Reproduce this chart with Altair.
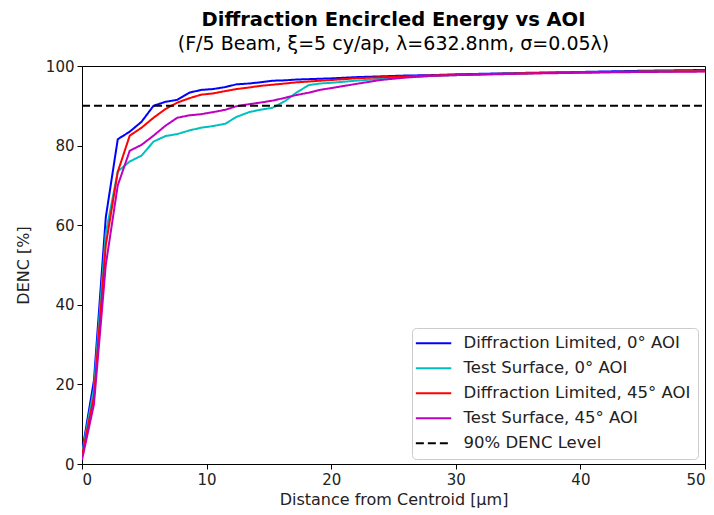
import altair as alt
import pandas as pd

x_um = [0, 0.96, 1.91, 2.87, 3.83, 4.78, 5.74, 6.7, 7.65, 8.61, 9.57, 10.5, 11.5,
        12.4, 13.4, 14.3, 15.3, 16.3, 17.2, 18.2, 19.1, 20.1, 22, 24, 26, 28, 30,
        33, 36, 40, 45, 50]

dl_0 = [3, 21, 62, 81.6, 83.5, 86, 90, 91, 91.5, 93.3, 94, 94.2, 94.7, 95.4, 95.6,
        95.9, 96.3, 96.4, 96.6, 96.7, 96.8, 96.9, 97.2, 97.4, 97.6, 97.7, 97.9,
        98.1, 98.3, 98.5, 98.8, 99.0]
ts_0 = [2.5, 19, 58, 73.5, 76, 77.5, 81, 82.4, 82.9, 83.8, 84.5, 84.9, 85.5, 87.2,
        88.4, 89, 89.5, 91.2, 93.3, 95.2, 95.6, 95.8, 96.3, 96.8, 97.2, 97.5, 97.7,
        98, 98.2, 98.4, 98.6, 98.8]
dl_45 = [2, 17, 55, 73.4, 82.5, 84.5, 87, 89.2, 90.8, 91.9, 92.8, 93.1, 93.7, 94.2,
         94.6, 95, 95.3, 95.6, 95.9, 96.1, 96.3, 96.5, 96.9, 97.2, 97.4, 97.6, 97.8,
         98, 98.2, 98.4, 98.6, 98.7]
ts_45 = [1, 15, 50, 70, 78.7, 80.2, 82.5, 85, 87, 87.6, 87.9, 88.4, 89, 89.9, 90.4,
         90.8, 91.3, 92, 92.7, 93.3, 94, 94.5, 95.5, 96.5, 97.1, 97.5, 97.7, 97.9,
         98.1, 98.3, 98.5, 98.6]
level_x = [0, 50]
level_y = [90, 90]

names = ["Diffraction Limited, 0° AOI", "Test Surface, 0° AOI",
         "Diffraction Limited, 45° AOI", "Test Surface, 45° AOI", "90% DENC Level"]
colors = ["#0000ff", "#00bfbf", "#ff0000", "#bf00bf", "#000000"]
dashes = [[1, 0], [1, 0], [1, 0], [1, 0], [8, 4]]

rows = []
for name, ys in zip(names[:4], [dl_0, ts_0, dl_45, ts_45]):
    for i, (xv, yv) in enumerate(zip(x_um, ys)):
        rows.append({"x": xv, "y": yv, "series": name, "o": i})
for i, (xv, yv) in enumerate(zip(level_x, level_y)):
    rows.append({"x": xv, "y": yv, "series": names[4], "o": i})
df = pd.DataFrame(rows)

font = "DejaVu Sans"

chart = alt.Chart(df).mark_line(strokeWidth=2, clip=True).encode(
    x=alt.X("x:Q", scale=alt.Scale(domain=[0, 50], nice=False),
            axis=alt.Axis(values=[0, 10, 20, 30, 40, 50], title="Distance from Centroid [µm]",
                          titlePadding=4)),
    y=alt.Y("y:Q", scale=alt.Scale(domain=[0, 100], nice=False),
            axis=alt.Axis(values=[0, 20, 40, 60, 80, 100], title="DENC [%]", titlePadding=14)),
    color=alt.Color("series:N", scale=alt.Scale(domain=names, range=colors),
                    legend=alt.Legend(title=None)),
    strokeDash=alt.StrokeDash("series:N", scale=alt.Scale(domain=names, range=dashes),
                              legend=alt.Legend(title=None)),
    order="o:Q",
).properties(
    width=623, height=398,
    title=alt.TitleParams(
        text="Diffraction Encircled Energy vs AOI",
        subtitle="(F/5 Beam, ξ=5 cy/ap, λ=632.8nm, σ=0.05λ)",
        fontSize=19.5, subtitleFontSize=19, font=font, subtitleFont=font,
        fontWeight="bold", color="black", subtitleColor="black",
        anchor="middle", offset=4, subtitlePadding=5,
    ),
    autosize=alt.AutoSizeParams(type="none"),
    padding={"left": 82, "top": 66, "right": 9, "bottom": 51},
).configure_view(
    stroke="black", strokeWidth=1,
).configure_axis(
    grid=False, domainColor="black", tickColor="black", tickSize=5,
    labelFont=font, titleFont=font, labelFontSize=15, titleFontSize=16,
    labelColor="#222", titleColor="#222", titleFontWeight="normal",
    labelPadding=3,
).configure_legend(
    orient="none", legendX=330, legendY=262,
    labelFont=font, labelFontSize=16.5, labelColor="#222", labelLimit=400,
    symbolType="M-1.9,0H4", symbolSize=144, symbolStrokeWidth=2,
    symbolFillColor="transparent",
    fillColor="white", strokeColor="#cccccc", cornerRadius=4,
    padding=7, rowPadding=8, labelOffset=28,
)

chart.save("out.html", embed_options={"renderer": "svg", "actions": False})
